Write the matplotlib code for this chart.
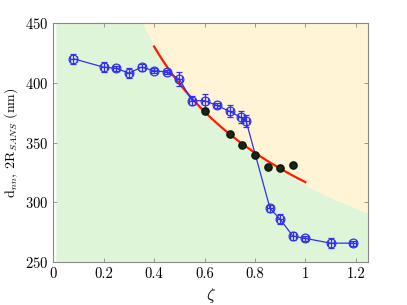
"""Nearest-neighbour distance vs zeta, with SANS size fit."""

import matplotlib
matplotlib.use("Agg")
import matplotlib.pyplot as plt
import numpy as np

# blue: d_nn measurements
zeta_dnn = [0.08, 0.20, 0.25, 0.30, 0.35, 0.40, 0.45, 0.50, 0.55, 0.60,
            0.65, 0.70, 0.745, 0.765, 0.86, 0.90, 0.95, 1.00, 1.10, 1.19]
dnn = [420, 413, 412, 408, 413, 410, 409, 403, 385, 385,
       381, 376, 371, 368, 295, 286, 272, 270, 266, 266]
dnn_err = [4, 4, 2, 4, 3, 2, 2, 6, 4, 6,
           2, 5, 5, 5, 3, 4, 3, 2, 4, 2]

# black: 2R from SANS
zeta_sans = [0.60, 0.70, 0.75, 0.80, 0.85, 0.90, 0.95]
r_sans = [376, 357, 348, 340, 330, 329, 331]

# power-law fit d = A * zeta^p, drawn over [0.4, 1.0]
fit_A = 317.0
fit_p = -1.0 / 3.0
fit_range = (0.4, 1.0)

# phase boundary between green and yellow regions
bound_A = 314.5
bound_p = -0.345

plt.rcParams["font.family"] = "cmr10"
plt.rcParams["mathtext.fontset"] = "cm"
plt.rcParams["axes.formatter.use_mathtext"] = True

fig = plt.figure(figsize=(4.07, 3.05), dpi=100)
ax = fig.add_axes([0.131, 0.14, 0.774, 0.785])

xlim = (0, 1.25)
ylim = (250, 450)

zb = np.linspace(0.01, xlim[1], 400)
boundary = bound_A * zb ** bound_p
ax.fill_between(zb, ylim[0], np.minimum(boundary, ylim[1]), color="#dff5d8", lw=0, zorder=0)
ax.fill_between(zb, np.minimum(boundary, ylim[1]), ylim[1], color="#fff4d6", lw=0, zorder=0)

zf = np.linspace(fit_range[0], fit_range[1], 200)
ax.plot(zf, fit_A * zf ** fit_p, color="#ff1a00", lw=1.6, zorder=3)

ax.errorbar(zeta_dnn, dnn, yerr=dnn_err, xerr=0.012, fmt="o", ls="-",
            color="#3030ee", mfc="none", mec="#3030ee", ms=6.3, mew=0.9,
            lw=0.9, elinewidth=0.9, capsize=2.2, zorder=4)

ax.plot(zeta_sans, r_sans, "o", color="#142814", mec="#0a140a", ms=5.2, zorder=5)

ax.set_xlim(*xlim)
ax.set_ylim(*ylim)
ax.set_xticks(np.arange(0, 1.21, 0.2))
ax.set_xticklabels(["0", "0.2", "0.4", "0.6", "0.8", "1", "1.2"])
ax.set_yticks([250, 300, 350, 400, 450])
ax.tick_params(direction="in", top=True, right=True, labelsize=10.5,
               color="#888888", length=3, width=0.6)
for s in ax.spines.values():
    s.set_color("#888888")
    s.set_linewidth(0.8)

ax.set_xlabel(r"$\zeta$", fontsize=12)
ax.set_ylabel(r"d$_{nn}$, 2R$_{SANS}$ (nm)", fontsize=10)

fig.savefig("out.png", dpi=100)
